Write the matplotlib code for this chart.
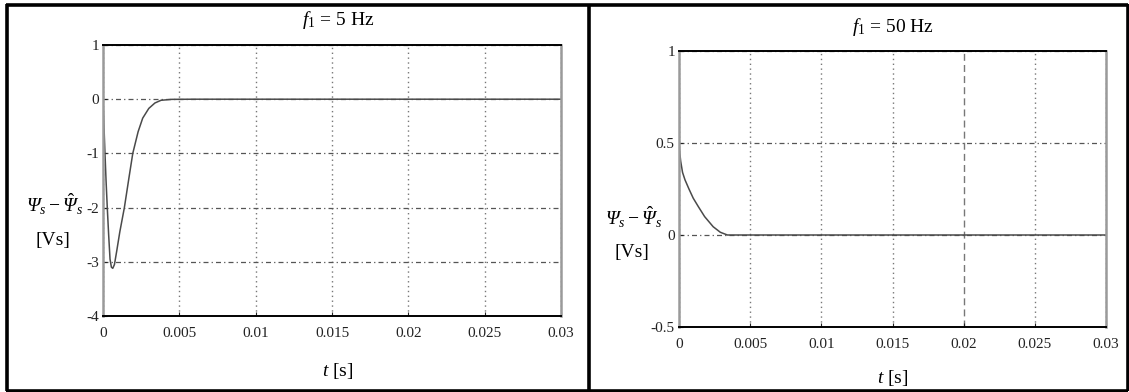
import matplotlib
matplotlib.use("Agg")
import matplotlib.pyplot as plt
from matplotlib.lines import Line2D

# ---- data ----
t_left = [0.0, 0.00005, 0.00013, 0.0002, 0.00028, 0.00037, 0.00046, 0.00055,
          0.00064, 0.00075, 0.0009, 0.0011, 0.0014, 0.0017, 0.00195, 0.0023,
          0.0026, 0.003, 0.0034, 0.0038, 0.0045, 0.006, 0.03]
v_left = [0.0, -0.4, -1.0, -1.5, -2.0, -2.5, -2.95, -3.1,
          -3.12, -3.05, -2.8, -2.45, -2.0, -1.45, -1.0, -0.6,
          -0.35, -0.17, -0.07, -0.02, -0.003, 0.0, 0.0]

t_right = [0.0, 0.00005, 0.00012, 0.00025, 0.00042, 0.0007, 0.001, 0.00136,
           0.0018, 0.0024, 0.0029, 0.0034, 0.03]
v_right = [0.5, 0.45, 0.40, 0.34, 0.30, 0.25, 0.20, 0.154,
           0.10, 0.045, 0.015, 0.0, 0.0]

x_ticks = [0, 0.005, 0.01, 0.015, 0.02, 0.025, 0.03]
x_tick_labels = ["0", "0.005", "0.01", "0.015", "0.02", "0.025", "0.03"]
y_ticks_left = [1, 0, -1, -2, -3, -4]
y_tick_labels_left = ["1", "0", "-1", "-2", "-3", "-4"]
y_ticks_right = [1, 0.5, 0, -0.5]
y_tick_labels_right = ["1", "0.5", "0", "-0.5"]

title_left = r"$f_1$ = 5 Hz"
title_right = r"$f_1$ = 50 Hz"
ylabel_top = r"$\mathsf{\Psi}_s - \hat{\mathsf{\Psi}}_s$"
ylabel_bottom = "[Vs]"
xlabel = r"$t$ [s]"

plt.rcParams["font.family"] = ["Liberation Serif", "DejaVu Serif"]
plt.rcParams["mathtext.fontset"] = "custom"
plt.rcParams["mathtext.rm"] = "Liberation Serif"
plt.rcParams["mathtext.it"] = "Liberation Serif:italic"
plt.rcParams["mathtext.sf"] = "Liberation Serif:italic"
plt.rcParams["mathtext.bf"] = "Liberation Serif:bold"

W, H = 1129, 392
fig = plt.figure(figsize=(W / 100, H / 100), dpi=100)
fig.patch.set_facecolor("white")

def fx(px):
    return px / W

def fy(py):
    return 1 - py / H

# outer frame and separator
frame_kw = dict(color="black", lw=2.6, transform=fig.transFigure, solid_capstyle="butt")
fig.add_artist(Line2D([fx(6), fx(1128)], [fy(4.5), fy(4.5)], **frame_kw))
fig.add_artist(Line2D([fx(6), fx(1128)], [fy(390.5), fy(390.5)], **frame_kw))
fig.add_artist(Line2D([fx(6.5), fx(6.5)], [fy(4), fy(391)], **frame_kw))
fig.add_artist(Line2D([fx(1127.5), fx(1127.5)], [fy(4), fy(391)], **frame_kw))
fig.add_artist(Line2D([fx(589), fx(589)], [fy(4), fy(391)], **frame_kw))


def make_axes(l, t, r, b):
    return fig.add_axes([fx(l), fy(b), fx(r) - fx(l), fy(t) - fy(b)])


def style(ax, yt, ytl, ylim):
    ax.set_xlim(0, 0.03)
    ax.set_ylim(*ylim)
    ax.set_xticks(x_ticks)
    ax.set_xticklabels(x_tick_labels)
    ax.set_yticks(yt)
    ax.set_yticklabels(ytl)
    ax.tick_params(axis="both", direction="in", length=3, width=0.8,
                   labelsize=11, colors="#222")
    ax.tick_params(axis="x", pad=8)
    ax.tick_params(axis="y", pad=3)
    ax.xaxis.grid(True, linestyle=(0, (1, 2.5)), color="#777", lw=1.0)
    ax.yaxis.grid(True, linestyle=(0, (4, 2.5, 1, 2.5)), color="#555", lw=0.9)
    ax.set_axisbelow(True)
    for s in ("top", "bottom"):
        ax.spines[s].set_color("black")
        ax.spines[s].set_linewidth(1.4)
    for s in ("left", "right"):
        ax.spines[s].set_color("#9a9a9a")
        ax.spines[s].set_linewidth(1.8)


# left panel
axL = make_axes(103, 45, 561, 316)
axL.plot(t_left, v_left, color="#4a4a4a", lw=1.1)
style(axL, y_ticks_left, y_tick_labels_left, (-4, 1))
fig.text(fx(338), fy(20), title_left, ha="center", va="center", fontsize=14)
fig.text(fx(55), fy(204), ylabel_top, ha="center", va="center", fontsize=14)
fig.text(fx(53), fy(241), ylabel_bottom, ha="center", va="center", fontsize=14)
fig.text(fx(338), fy(371), xlabel, ha="center", va="center", fontsize=14)

# right panel
axR = make_axes(679, 51, 1106, 327)
axR.plot(t_right, v_right, color="#4a4a4a", lw=1.1)
style(axR, y_ticks_right, y_tick_labels_right, (-0.5, 1))
axR.xaxis.get_gridlines()[4].set_linestyle((0, (5, 3)))
fig.text(fx(893), fy(27), title_right, ha="center", va="center", fontsize=14)
fig.text(fx(634), fy(217), ylabel_top, ha="center", va="center", fontsize=14)
fig.text(fx(632), fy(253), ylabel_bottom, ha="center", va="center", fontsize=14)
fig.text(fx(893), fy(378), xlabel, ha="center", va="center", fontsize=14)

fig.savefig("out.png", dpi=100, facecolor="white")
